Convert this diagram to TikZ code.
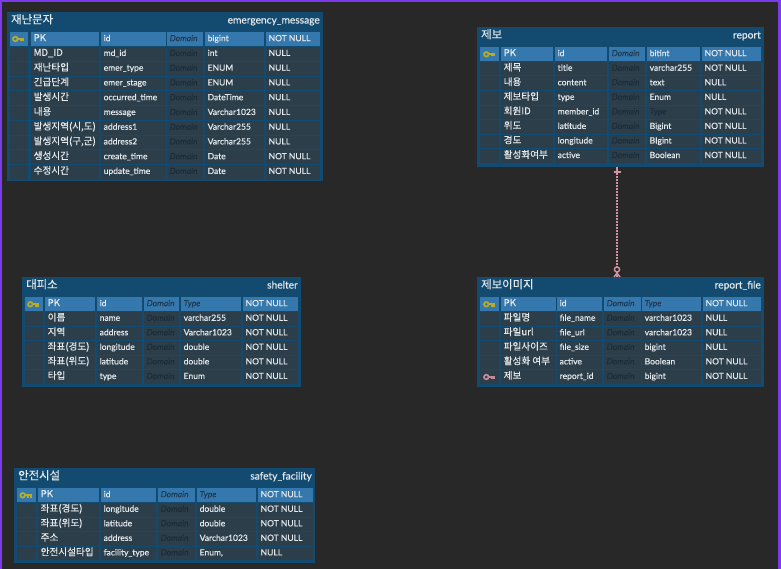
\documentclass[tikz,border=0pt]{standalone}
\usepackage{fontspec}
\usetikzlibrary{calc}
\setmainfont{Lato}[RawFeature={embolden=0.45}]
\newfontfamily\krfont{Noto Sans CJK KR}[RawFeature={embolden=0.3}]
\definecolor{bgc}{HTML}{282828}
\definecolor{framec}{HTML}{124A70}
\definecolor{rowc}{HTML}{2C3E4A}
\definecolor{pkc}{HTML}{3578AE}
\definecolor{txtc}{HTML}{E4E9EC}
\definecolor{phc}{HTML}{182836}
\definecolor{purplec}{HTML}{7C3AED}
\definecolor{keyy}{HTML}{B5AC30}
\definecolor{keyp}{HTML}{C48A9C}
\definecolor{linkc}{HTML}{D493A3}
\tikzset{
  tableframe/.style={draw=none,fill=framec,inner sep=0pt,anchor=north west},
  celltext/.style={anchor=base west,inner sep=0pt,text=txtc,font=\fontsize{8.5}{10}\selectfont},
  phtext/.style={celltext,text=phc,text opacity=0.7,font=\fontsize{8.5}{10}\selectfont\itshape},
  titletext/.style={anchor=base west,inner sep=0pt,text=txtc,font=\krfont\fontsize{11.4}{13}\selectfont},
  logictext/.style={anchor=base east,inner sep=0pt,text=txtc,font=\fontsize{10.2}{12}\selectfont},
  link/.style={draw=linkc,line width=1.4pt},
}
\newcount\cellno
\newcommand\setcolsA[6]{\def\xa{#1}\def\xb{#2}\def\xc{#3}\def\xd{#4}\def\xe{#5}\def\xf{#6}}
\newcommand\setcolsB[6]{\def\xg{#1}\def\xh{#2}\def\xi{#3}\def\xj{#4}\def\xk{#5}\def\xl{#6}}
% \erdtable{name}{x1}{y1}{x2}{y2}{korean}{logical}{row top}{pitch}
\newcommand\erdtable[9]{%
  \node[tableframe,minimum width=#4pt-#2pt,minimum height=#5pt-#3pt] (#1) at (#2,#3) {};
  \node[titletext] (#1title) at (#2+4,#3+11.5) {#6};
  \node[logictext] (#1logic) at (#4-3,#3+11.5) {#7};
  \def\rowtop{#8}\def\rowstep{#9}}
\newcommand\cellbox[3]{\fill[#3] (#1,\rowtop+0.4) rectangle (#2,\rowtop+\rowstep-0.6);}
\newcommand\celltxt[3]{\global\advance\cellno by 1
  \node[#1] (cell\the\cellno) at (#2+2.5,\rowtop+9.2) {#3};}
% \erow{fill}{name}{phys}{type}{null}
\newcommand\erow[5]{%
  \cellbox{\xa}{\xb}{#1}\cellbox{\xc}{\xd}{#1}\cellbox{\xe}{\xf}{#1}%
  \cellbox{\xg}{\xh}{#1}\cellbox{\xi}{\xj}{#1}\cellbox{\xk}{\xl}{#1}%
  \celltxt{celltext}{\xc}{{\krfont\fontsize{9.6}{11}\selectfont #2}}%
  \celltxt{celltext}{\xe}{#3}%
  \celltxt{phtext}{\xg}{Domain}%
  \celltxt{#5}{\xi}{#4}%
  \nullcell
  \pgfmathsetmacro\rowtop{\rowtop+\rowstep}\global\let\rowtop\rowtop}
\newcommand\rowv[5]{\def\nullcell{\celltxt{celltext}{\xk}{#5}}\erow{#1}{#2}{#3}{#4}{celltext}}
\newcommand\rowph[4]{\def\nullcell{\celltxt{celltext}{\xk}{#4}}\erow{#1}{#2}{#3}{Type}{phtext}}
% key icon
\newcommand\keyicon[3]{%
  \draw[#3,line width=1.7pt] (#1-3.2,#2) circle (2.3);
  \draw[#3,line width=2pt] (#1-1,#2) -- (#1+5.6,#2) (#1+2,#2) -- (#1+2,#2+2.2) (#1+4.6,#2) -- (#1+4.6,#2+2.2);}
\begin{document}
\begin{tikzpicture}[x=1pt,y=-1pt]
\useasboundingbox (0,0) rectangle (781,569);
\fill[bgc] (0,0) rectangle (781,569);
\fill[purplec] (0,0) rectangle (781,1.6);
\fill[purplec] (0,0) rectangle (1.6,569);
\fill[purplec] (778,0) rectangle (781,569);

% emergency_message
\erdtable{emergency}{7}{12}{323}{181}{재난문자}{emergency\_message}{32}{14.75}
\setcolsA{10}{28}{31}{99}{101}{166}\setcolsB{167}{203}{205}{264}{266}{320}
\rowv{pkc}{PK}{id}{bigint}{NOT NULL}
\rowv{rowc}{MD\_ID}{md\_id}{int}{NULL}
\rowv{rowc}{재난타입}{emer\_type}{ENUM}{NULL}
\rowv{rowc}{긴급단계}{emer\_stage}{ENUM}{NULL}
\rowv{rowc}{발생시간}{occurred\_time}{DateTime}{NULL}
\rowv{rowc}{내용}{message}{Varchar1023}{NULL}
\rowv{rowc}{발생지역(시,도)}{address1}{Varchar255}{NULL}
\rowv{rowc}{발생지역(구,군)}{address2}{Varchar255}{NULL}
\rowv{rowc}{생성시간}{create\_time}{Date}{NOT NULL}
\rowv{rowc}{수정시간}{update\_time}{Date}{NOT NULL}
\keyicon{18.5}{39}{keyy}

% report
\erdtable{report}{477}{27}{764}{167}{제보}{report}{47}{14.55}
\setcolsA{480}{499}{501}{553}{555}{607}\setcolsB{609}{645}{647}{700}{702}{761}
\rowv{pkc}{PK}{id}{bitint}{NOT NULL}
\rowv{rowc}{제목}{title}{varchar255}{NOT NULL}
\rowv{rowc}{내용}{content}{text}{NULL}
\rowv{rowc}{제보타입}{type}{Enum}{NULL}
\rowph{rowc}{회원ID}{member\_id}{NOT NULL}
\rowv{rowc}{위도}{latitude}{Bigint}{NOT NULL}
\rowv{rowc}{경도}{longitude}{BIgint}{NOT NULL}
\rowv{rowc}{활성화여부}{active}{Boolean}{NOT NULL}
\keyicon{489.5}{54.3}{keyy}

% report_file
\erdtable{file}{477}{277}{764}{387}{제보이미지}{report\_file}{297}{14.55}
\setcolsA{480}{499}{501}{556}{557}{602}\setcolsB{604}{641}{642}{701}{703}{761}
\rowph{pkc}{PK}{id}{NOT NULL}
\rowv{rowc}{파일명}{file\_name}{varchar1023}{NULL}
\rowv{rowc}{파일url}{file\_url}{varchar1023}{NULL}
\rowv{rowc}{파일사이즈}{file\_size}{bigint}{NULL}
\rowv{rowc}{활성화 여부}{active}{Boolean}{NOT NULL}
\rowv{rowc}{제보}{report\_id}{bigint}{NOT NULL}
\keyicon{489.5}{304.3}{keyy}
\keyicon{489.5}{377}{keyp}

% shelter
\erdtable{shelter}{22}{277}{301}{387}{대피소}{shelter}{297}{14.55}
\setcolsA{25}{43}{45}{95}{97}{142}\setcolsB{144}{179}{181}{241}{243}{298}
\rowph{pkc}{PK}{id}{NOT NULL}
\rowv{rowc}{이름}{name}{varchar255}{NOT NULL}
\rowv{rowc}{지역}{address}{Varchar1023}{NOT NULL}
\rowv{rowc}{좌표(경도)}{longitude}{double}{NOT NULL}
\rowv{rowc}{좌표(위도)}{latitude}{double}{NOT NULL}
\rowv{rowc}{타입}{type}{Enum}{NOT NULL}
\keyicon{33.5}{304.3}{keyy}

% safety_facility
\erdtable{safety}{14}{468}{315}{563}{안전시설}{safety\_facility}{488}{14.55}
\setcolsA{17}{36}{38}{99}{101}{156}\setcolsB{158}{195}{197}{256}{258}{313}
\rowph{pkc}{PK}{id}{NOT NULL}
\rowv{rowc}{좌표(경도)}{longitude}{double}{NOT NULL}
\rowv{rowc}{좌표(위도)}{latitude}{double}{NOT NULL}
\rowv{rowc}{주소}{address}{Varchar1023}{NOT NULL}
\rowv{rowc}{안전시설타입}{facility\_type}{Enum,}{NULL}
\keyicon{26}{495.3}{keyy}

% connector
\coordinate (linkx) at (617,0);
\draw[link,dash pattern=on 2pt off 1pt] (report.south -| linkx) -- (file.north -| linkx);
\draw[link] (report.south -| linkx) -- ++(0,8);
\draw[link] ($(report.south -| linkx)+(-3.5,4.5)$) -- ++(7,0);
\draw[link,fill=bgc] ($(file.north -| linkx)+(0,-7.5)$) circle (2.6);
\draw[link] ($(file.north -| linkx)+(-3,0)$) -- ++(3,-4) -- ++(3,4);
\end{tikzpicture}
\end{document}
